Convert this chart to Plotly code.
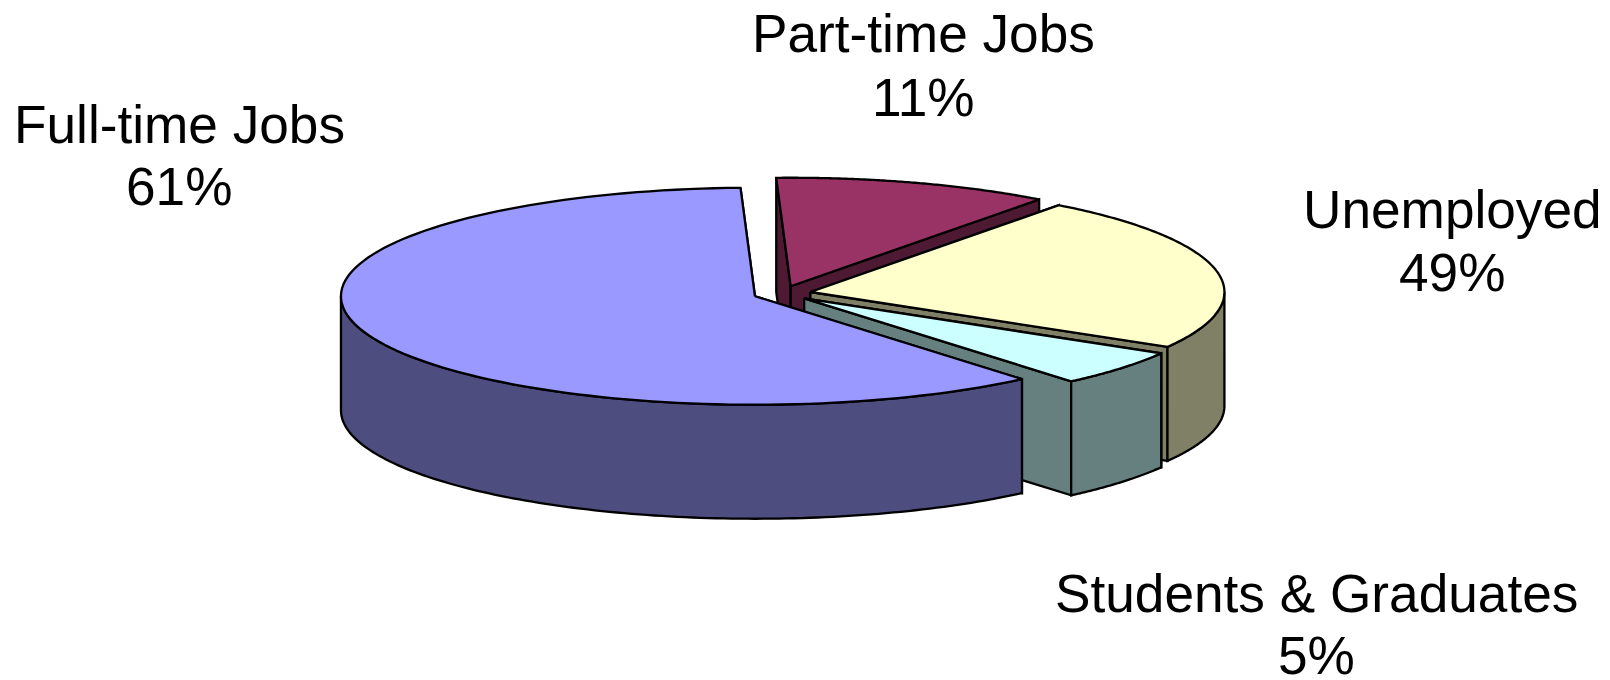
import math
import plotly.graph_objects as go

# Data: the slice sizes are what was drawn, the labels are what was printed
categories = ["Part-time Jobs", "Unemployed", "Students & Graduates", "Full-time Jobs"]
slice_shares = [10.8, 23.2, 5.4, 60.6]
printed_labels = ["11%", "49%", "5%", "61%"]

top_colors = ["#993366", "#FFFFCC", "#CCFFFF", "#9999FF"]
side_colors = ["#4D1933", "#808066", "#668080", "#4D4D7F"]

CX, CY = 782, 293.5
RX, RY = 414, 108.5
DEPTH = 114
EXPLODE = 0.07
START = 92
LW = 2.3
FONT = "Liberation Sans, Arial, sans-serif"
FS = 53.2
LABEL_POS = {
    "Part-time Jobs": (923, 33, 97),
    "Unemployed": (1452, 209, 272),
    "Students & Graduates": (1316, 593, 655),
    "Full-time Jobs": (179, 124, 186),
}

fig = go.Figure()


def poly(xs, ys, color):
    fig.add_trace(go.Scatter(
        x=xs, y=ys, mode="lines", fill="toself", fillcolor=color,
        line=dict(color="black", width=LW, simplify=False),
        hoverinfo="skip", showlegend=False,
    ))


def arc(a0, a1, n=120):
    return [a0 + (a1 - a0) * i / n for i in range(n + 1)]


total = sum(slice_shares)
angle = START
for share, top, side in zip(slice_shares, top_colors, side_colors):
    sweep = 360 * share / total
    a_start, a_end = angle, angle - sweep
    angle = a_end
    mid = math.radians((a_start + a_end) / 2)
    ax = CX + EXPLODE * RX * math.cos(mid)
    ay = CY - EXPLODE * RY * math.sin(mid)

    def px(a):
        return ax + RX * math.cos(math.radians(a))

    def py(a):
        return ay - RY * math.sin(math.radians(a))

    # cut faces
    for a in (a_start, a_end):
        poly([ax, px(a), px(a), ax, ax],
             [ay, py(a), py(a) + DEPTH, ay + DEPTH, ay], side)

    # outer wall: only the part on the near half of the ellipse (-180..0 degrees)
    w_hi = min(a_start, 0)
    w_lo = max(a_end, -180)
    if w_hi > w_lo:
        pts = arc(w_lo, w_hi)
        xs = [px(a) for a in pts] + [px(a) for a in reversed(pts)]
        ys = [py(a) for a in pts] + [py(a) + DEPTH for a in reversed(pts)]
        poly(xs + xs[:1], ys + ys[:1], side)

    # top surface
    pts = arc(a_start, a_end)
    poly([ax] + [px(a) for a in pts] + [ax], [ay] + [py(a) for a in pts] + [ay], top)

annotations = []
for name, pct in zip(categories, printed_labels):
    x, y1, y2 = LABEL_POS[name]
    for text, y in ((name, y1), (pct, y2)):
        annotations.append(dict(
            x=x, y=y, xref="x", yref="y", text=text, showarrow=False,
            xanchor="center", yanchor="middle",
            font=dict(family=FONT, size=FS, color="black"),
        ))

fig.update_layout(
    width=1610, height=680,
    margin=dict(l=0, r=0, t=0, b=0),
    paper_bgcolor="white", plot_bgcolor="white",
    xaxis=dict(range=[0, 1610], visible=False, fixedrange=True),
    yaxis=dict(range=[680, 0], visible=False, fixedrange=True),
    annotations=annotations,
    showlegend=False,
)
fig.write_html("out.html", post_script="document.body.style.margin='0';",
               config={"displayModeBar": False})
